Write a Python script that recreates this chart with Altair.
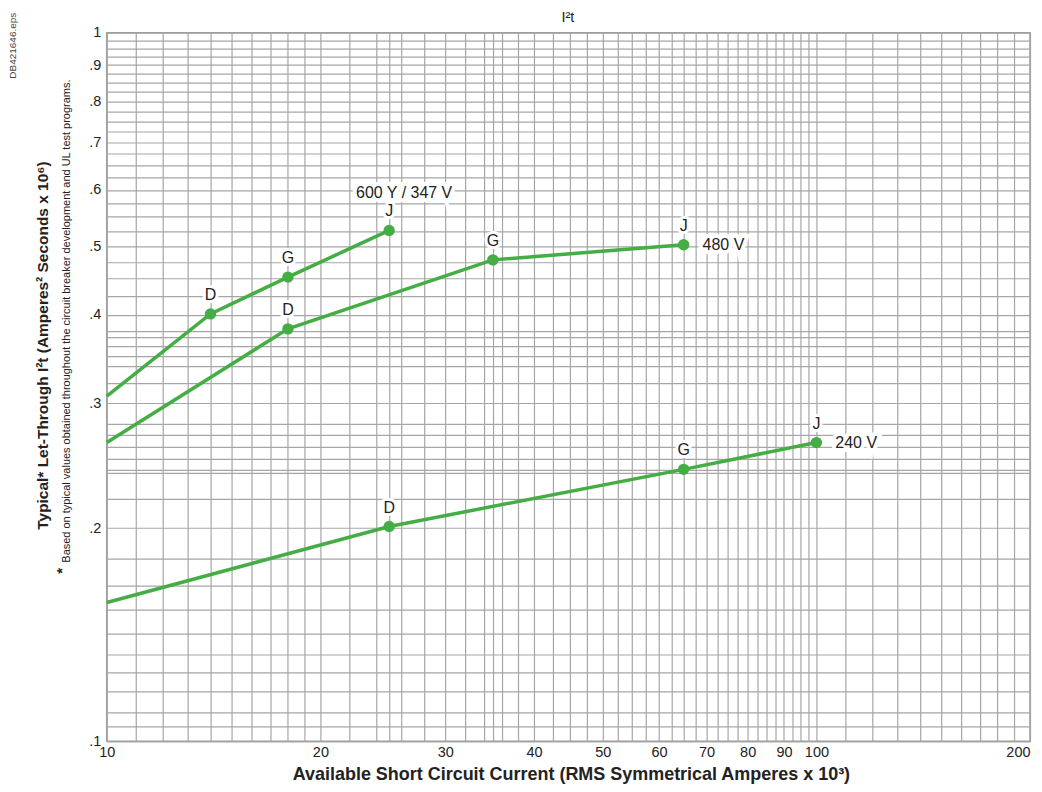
import altair as alt
import pandas as pd

GREEN = "#44ad44"
FONT = "Liberation Sans"

# ---- data ----
s600_current = [10, 14, 18, 25]
s600_i2t = [0.307, 0.401, 0.452, 0.526]
s600_grade = ["", "D", "G", "J"]

s480_current = [10, 18, 35, 65]
s480_i2t = [0.264, 0.382, 0.478, 0.502]
s480_grade = ["", "D", "G", "J"]

s240_current = [10, 25, 65, 100]
s240_i2t = [0.157, 0.201, 0.242, 0.264]
s240_grade = ["", "D", "G", "J"]

series_names = ["600 Y / 347 V", "480 V", "240 V"]

x_label_values = [10, 20, 30, 40, 50, 60, 70, 80, 90, 100, 200]
x_grid_values = ([10, 11, 12, 13, 14, 15, 16, 17, 18, 19, 20,
                  22, 24, 25, 26, 28, 30, 32, 34, 35, 36, 38, 40,
                  42.5, 45, 47.5, 50, 52.5, 55, 57.5, 60, 62.5, 65, 67.5,
                  70, 72.5, 75, 77.5, 80, 82.5, 85, 87.5, 90, 92.5, 95, 97.5,
                  100, 110, 120, 130, 140, 150, 160, 170, 180, 190, 200])

y_label_values = [0.1, 0.2, 0.3, 0.4, 0.5, 0.6, 0.7, 0.8, 0.9, 1]
y_grid_values = ([0.1, 0.105, 0.11, 0.1175, 0.125, 0.1325, 0.142, 0.1535, 0.166, 0.181,
                  0.2, 0.22, 0.2396, 0.2417, 0.25, 0.26, 0.2708, 0.2806,
                  0.3, 0.32, 0.338, 0.35, 0.3607, 0.372, 0.3787,
                  0.4, 0.425, 0.45, 0.475, 0.5, 0.525, 0.55, 0.575,
                  0.6, 0.625, 0.65, 0.675, 0.7, 0.725, 0.75, 0.775,
                  0.8, 0.825, 0.85, 0.875, 0.9, 0.925, 0.95, 0.975, 1])

rows = []
for name, xs, ys, gs in zip(series_names,
                            [s600_current, s480_current, s240_current],
                            [s600_i2t, s480_i2t, s240_i2t],
                            [s600_grade, s480_grade, s240_grade]):
    for xv, yv, g in zip(xs, ys, gs):
        rows.append({"series": name, "current": xv, "i2t": yv, "grade": g})
df = pd.DataFrame(rows)

ends = df[df["grade"] == "J"].copy()

x_lab_js = "[" + ",".join(str(v) for v in x_label_values) + "]"
y_lab_js = "[" + ",".join(str(v) for v in y_label_values) + "]"

xscale = alt.Scale(type="log", domain=[10, 200], nice=False)
yscale = alt.Scale(type="log", domain=[0.1, 1], nice=False)

xaxis = alt.Axis(
    values=x_grid_values,
    labelExpr=f"indexof({x_lab_js}, datum.value) >= 0 ? datum.label : ''",
    format="d",
    grid=True, gridColor="#a6a6a6", gridWidth=1.2,
    ticks=False, domain=False,
    labelFontSize=14.5, labelColor="#222", labelPadding=4, labelOverlap=False,
    labelFlush=False,
    labelAlign={"condition": {"test": "datum.value >= 200", "value": "right"}, "value": "center"},
    title="Available Short Circuit Current (RMS Symmetrical Amperes x 10³)",
    titleFontSize=18, titleFontWeight="bold", titleColor="#222",
    titleY=33, titleBaseline="middle", titleX=465,
)

yaxis = alt.Axis(
    values=y_grid_values,
    labelExpr=f"indexof({y_lab_js}, datum.value) >= 0 ? (datum.value == 1 ? '1' : replace(format(datum.value, '.1f'), '0.', '.')) : ''",
    grid=True, gridColor="#a6a6a6", gridWidth=1.2,
    ticks=False, domain=False,
    labelFontSize=14.5, labelColor="#222", labelPadding=6, labelOverlap=False,
    title="Typical* Let-Through I²t (Amperes² Seconds x 10⁶)",
    titleFontSize=15.5, titleFontWeight="bold", titleColor="#222",
    titleX=-64, titleY=313, titleAngle=270, titleAlign="center", titleBaseline="middle",
)

base = alt.Chart(df)

lines = base.mark_line(color=GREEN, strokeWidth=3.5).encode(
    x=alt.X("current:Q", scale=xscale, axis=xaxis),
    y=alt.Y("i2t:Q", scale=yscale, axis=yaxis),
    detail="series:N",
)

pts_src = base.transform_filter("datum.grade != ''")
points = pts_src.mark_circle(color=GREEN, size=130, opacity=1).encode(
    x="current:Q", y="i2t:Q")

letter_halo = pts_src.mark_text(fontSize=16, dy=-19, font=FONT, stroke="white",
                                strokeWidth=6, strokeJoin="round", color="white").encode(
    x="current:Q", y="i2t:Q", text="grade:N")
letters = pts_src.mark_text(fontSize=16, dy=-19, font=FONT, color="#222").encode(
    x="current:Q", y="i2t:Q", text="grade:N")

top_lab = alt.Chart(ends[ends["series"] == "600 Y / 347 V"])
top_halo = top_lab.mark_text(fontSize=16, dx=15, dy=-37, font=FONT, stroke="white",
                             strokeWidth=8, color="white").encode(
    x="current:Q", y="i2t:Q", text="series:N")
top_text = top_lab.mark_text(fontSize=16, dx=15, dy=-37, font=FONT, color="#222").encode(
    x="current:Q", y="i2t:Q", text="series:N")

side_lab = alt.Chart(ends[ends["series"] != "600 Y / 347 V"])
side_halo = side_lab.mark_text(fontSize=16, dx=19, align="left", font=FONT, stroke="white",
                               strokeWidth=8, color="white").encode(
    x="current:Q", y="i2t:Q", text="series:N")
side_text = side_lab.mark_text(fontSize=16, dx=19, align="left", font=FONT, color="#222").encode(
    x="current:Q", y="i2t:Q", text="series:N")

note_df = pd.DataFrame({"t": ["Based on typical values obtained throughout the circuit breaker development and UL test programs."]})
footnote = alt.Chart(note_df).mark_text(angle=270, align="left", baseline="middle",
                                        fontSize=11, font=FONT, color="#222").encode(
    x=alt.value(-40), y=alt.value(531), text="t:N")
star = alt.Chart(pd.DataFrame({"t": ["*"]})).mark_text(angle=270, align="left", baseline="middle",
                                                       fontSize=15, fontWeight="bold", font=FONT,
                                                       color="#222").encode(
    x=alt.value(-45), y=alt.value(542), text="t:N")
fileref = alt.Chart(pd.DataFrame({"t": ["DB421646.eps"]})).mark_text(
    angle=270, align="center", baseline="middle", fontSize=10, font=FONT, color="#444").encode(
    x=alt.value(-94), y=alt.value(13), text="t:N")
title_txt = alt.Chart(pd.DataFrame({"t": ["I²t"]})).mark_text(
    align="center", baseline="middle", fontSize=14.5, font=FONT, color="#222").encode(
    x=alt.value(462), y=alt.value(-15), text="t:N")

chart = alt.layer(
    lines, points, letter_halo, letters, top_halo, top_text, side_halo, side_text,
    footnote, star, fileref, title_txt,
).properties(
    width=925, height=710,
    autosize=alt.AutoSizeParams(type="none"),
    padding={"left": 99, "top": 24, "right": 4, "bottom": 45},
).configure(font=FONT).configure_view(stroke="#999", strokeWidth=1.5)

chart.save("out.html", embed_options={"renderer": "svg", "actions": False})
